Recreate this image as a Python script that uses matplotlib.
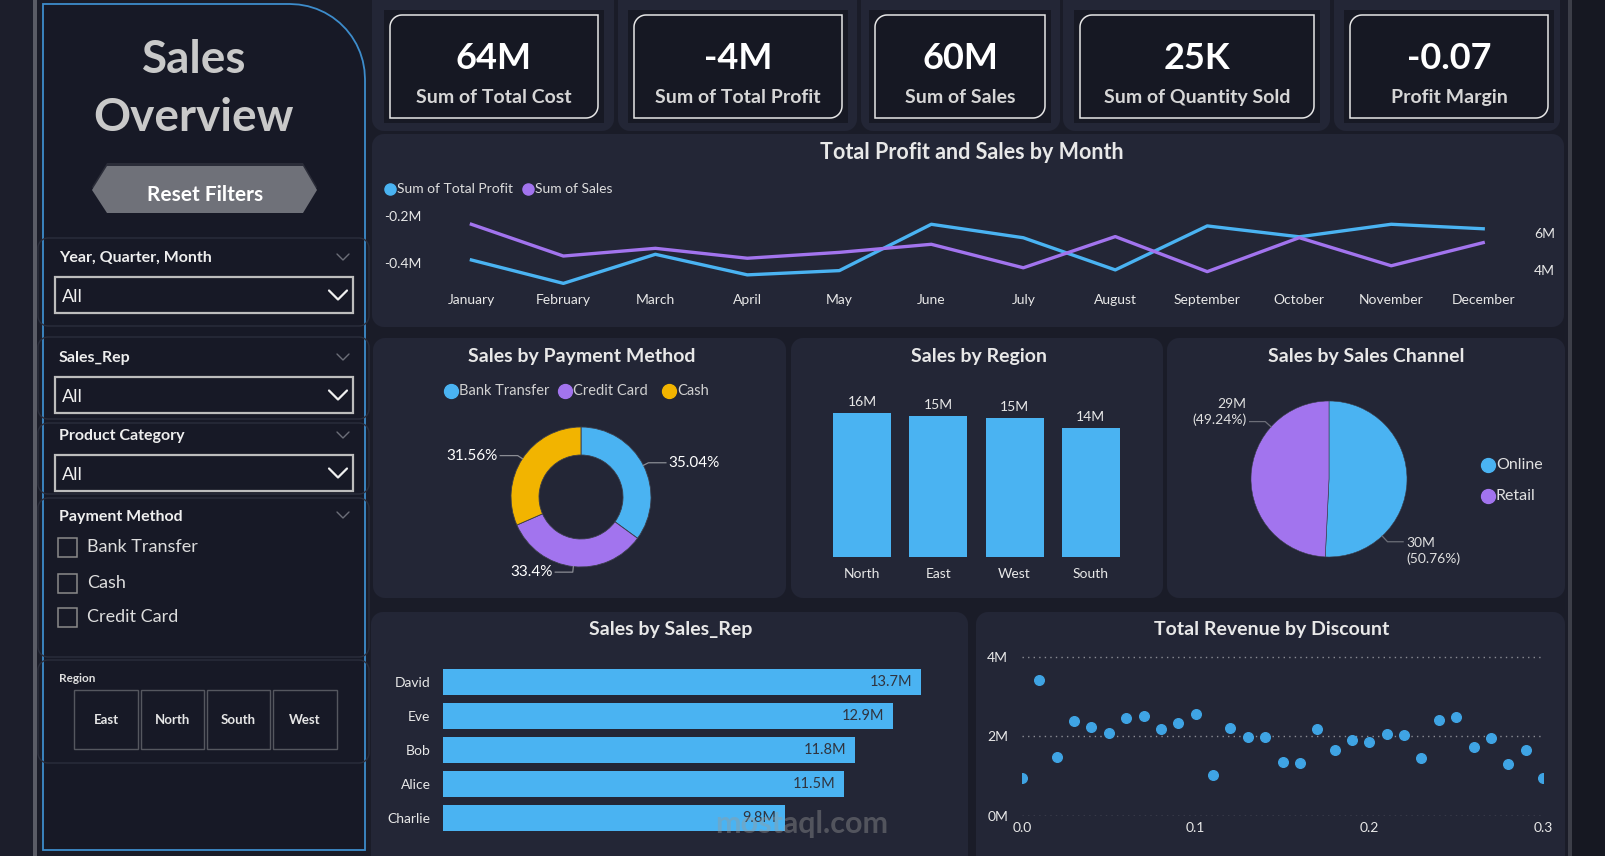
import numpy as np
import matplotlib
matplotlib.use('Agg')
import matplotlib.pyplot as plt
from matplotlib.patches import Polygon, Rectangle

plt.rcParams['font.family'] = ['Lato', 'DejaVu Sans']

W, H = 1606, 856

# ---- data ----
kpi_values = ['64M', '-4M', '60M', '25K', '-0.07']
kpi_labels = ['Sum of Total Cost', 'Sum of Total Profit', 'Sum of Sales',
              'Sum of Quantity Sold', 'Profit Margin']

months = ['January', 'February', 'March', 'April', 'May', 'June', 'July',
          'August', 'September', 'October', 'November', 'December']
profit_m = [-0.386, -0.485, -0.362, -0.449, -0.431, -0.235, -0.292, -0.428,
            -0.242, -0.288, -0.235, -0.254]
sales_m = [6.49, 4.76, 5.18, 4.64, 4.96, 5.40, 4.12, 5.82, 3.91, 5.76, 4.23, 5.49]

pay_methods = ['Bank Transfer', 'Credit Card', 'Cash']
pay_share = [35.04, 33.4, 31.56]

regions = ['North', 'East', 'West', 'South']
region_sales = [15.86, 15.49, 15.27, 14.15]

channels = ['Online', 'Retail']
channel_sales = [29.9, 29.0]

reps = ['David', 'Eve', 'Bob', 'Alice', 'Charlie']
rep_sales = [13.7, 12.9, 11.8, 11.5, 9.8]

discount = [0.00, 0.01, 0.02, 0.03, 0.04, 0.05, 0.06, 0.07, 0.08, 0.09, 0.10,
            0.11, 0.12, 0.13, 0.14, 0.15, 0.16, 0.17, 0.18, 0.19, 0.20, 0.21,
            0.22, 0.23, 0.24, 0.25, 0.26, 0.27, 0.28, 0.29, 0.30]
revenue = [0.96, 3.41, 1.49, 2.39, 2.23, 2.08, 2.45, 2.52, 2.18, 2.33, 2.55,
           1.02, 2.22, 1.99, 1.99, 1.36, 1.34, 2.18, 1.66, 1.90, 1.87, 2.05,
           2.03, 1.46, 2.40, 2.49, 1.74, 1.95, 1.30, 1.67, 0.96]

slicer_names = ['Year, Quarter, Month', 'Sales_Rep', 'Product Category']
pay_options = ['Bank Transfer', 'Cash', 'Credit Card']
region_buttons = ['East', 'North', 'South', 'West']

# ---- colours ----
BLUE = '#4ab3f2'
PURPLE = '#a274ee'
YELLOW = '#f2b400'
PANEL = '#232636'
BG = '#1a1c28'
SIDE = '#171926'
TXT = '#e8e8e8'

fig = plt.figure(figsize=(W / 100, H / 100), dpi=100, facecolor=BG)
bg = fig.add_axes([0, 0, 1, 1])
bg.set_xlim(0, W)
bg.set_ylim(H, 0)
bg.axis('off')


def px_axes(x0, y0, x1, y1):
    ax = fig.add_axes([x0 / W, 1 - y1 / H, (x1 - x0) / W, (y1 - y0) / H])
    ax.set_facecolor('none')
    for s in ax.spines.values():
        s.set_visible(False)
    return ax


def rbox(x0, y0, x1, y1, r, n=14):
    # r = (top-left, top-right, bottom-right, bottom-left), y grows downwards
    tl, tr, br, bl = r
    pts = []

    def arc(cx, cy, rad, a0, a1):
        for t in np.linspace(a0, a1, n):
            pts.append((cx + rad * np.cos(t), cy + rad * np.sin(t)))
    arc(x0 + tl, y0 + tl, tl, np.pi, 1.5 * np.pi)
    arc(x1 - tr, y0 + tr, tr, 1.5 * np.pi, 2 * np.pi)
    arc(x1 - br, y1 - br, br, 0, 0.5 * np.pi)
    arc(x0 + bl, y1 - bl, bl, 0.5 * np.pi, np.pi)
    return pts


def panel(x0, y0, x1, y1, r=12, fc=PANEL, ec='none', lw=1.0, radii=None):
    if radii is None:
        radii = (r, r, r, r)
    bg.add_patch(Polygon(rbox(x0, y0, x1, y1, radii), closed=True,
                         fc=fc, ec=ec, lw=lw))


def chevron(x, y, w, h, color, lw):
    bg.plot([x - w / 2, x, x + w / 2], [y - h / 2, y + h / 2, y - h / 2],
            color=color, lw=lw, solid_capstyle='round')


# ---- frame strips ----
bg.add_patch(Rectangle((0, 0), 33, H, fc='#1c1e2b', ec='none'))
bg.add_patch(Rectangle((33, 0), 4, H, fc='#5a5c66', ec='none'))
bg.add_patch(Rectangle((1568, 0), 4, H, fc='#3c3e48', ec='none'))
bg.add_patch(Rectangle((1572, 0), W - 1572, H, fc='#161822', ec='none'))

# ---- sidebar ----
panel(43, 4, 365, 850, radii=(0, 75, 0, 0), fc=SIDE, ec='#3d8ccb', lw=1.3)
bg.text(194, 60, 'Sales', ha='center', va='center', fontsize=33,
        fontweight='bold', color='#c9c9c9')
bg.text(194, 118, 'Overview', ha='center', va='center', fontsize=33,
        fontweight='bold', color='#c9c9c9')

hexa = [(92, 190), (107, 166), (303, 166), (317, 190), (303, 213), (107, 213)]
bg.add_patch(Polygon([(p[0], p[1] - 3) for p in hexa], closed=True,
                     fc='#2a2c38', ec='none'))
bg.add_patch(Polygon(hexa, closed=True, fc='#6f7179', ec='none'))
bg.text(205, 195, 'Reset Filters', ha='center', va='center', fontsize=15,
        fontweight='bold', color='white')

# slicer outlines
for y0, y1 in [(238, 326), (337, 419), (423, 494), (498, 657), (660, 763)]:
    panel(38, y0, 369, y1, r=10, fc='none', ec='#2b2e3c', lw=1.0)

# dropdown slicers
for name, ly, by in zip(slicer_names, [258, 358, 436], [277, 377, 455]):
    bg.text(59, ly, name, ha='left', va='center', fontsize=11.5,
            fontweight='bold', color='#eeeeee')
    chevron(343, ly - 1, 12, 6, '#6c6e78', 1.0)
    bg.add_patch(Rectangle((55, by), 298, 36, fc='none', ec='#bdbdbd', lw=1.6))
    bg.text(62, by + 20, 'All', ha='left', va='center', fontsize=13,
            color='#f0f0f0')
    chevron(338, by + 18, 18, 9, '#f0f0f0', 1.6)

# checkbox slicer
bg.text(59, 517, 'Payment Method', ha='left', va='center', fontsize=11.5,
        fontweight='bold', color='#eeeeee')
chevron(343, 515, 12, 6, '#6c6e78', 1.0)
for opt, cy in zip(pay_options, [547, 583, 617]):
    bg.add_patch(Rectangle((58, cy - 9.5), 19, 19, fc='none', ec='#8a8a8a', lw=1.1))
    bg.text(87, cy, opt, ha='left', va='center', fontsize=13, color='#dddddd')

# region buttons
bg.text(59, 679, 'Region', ha='left', va='center', fontsize=8.5,
        fontweight='bold', color='#e0e0e0')
for lab, (x0, x1) in zip(region_buttons, [(74, 138), (141, 204), (207, 270), (273, 337)]):
    bg.add_patch(Rectangle((x0, 690), x1 - x0, 59, fc='none', ec='#55575f', lw=1.0))
    bg.text((x0 + x1) / 2, 720, lab, ha='center', va='center', fontsize=9.5,
            fontweight='bold', color='#e6e6e6')

# ---- KPI cards ----
outer = [(372, 614), (618, 857), (861, 1060), (1063, 1330), (1334, 1560)]
inner = [(390, 598), (634, 842), (875, 1045), (1080, 1314), (1350, 1548)]
for (ox0, ox1), (ix0, ix1), val, lab in zip(outer, inner, kpi_values, kpi_labels):
    panel(ox0, -12, ox1, 131, r=12)
    bg.add_patch(Rectangle((ix0 - 6, 10), ix1 - ix0 + 12, 113, fc='#171924', ec='none'))
    panel(ix0, 15, ix1, 118, radii=(12, 0, 12, 0), fc='#161823', ec='#e6e6e6', lw=1.1)
    cx = (ix0 + ix1) / 2
    bg.text(cx, 58, val, ha='center', va='center', fontsize=26,
            fontweight='bold', color='white')
    bg.text(cx, 97, lab, ha='center', va='center', fontsize=14,
            fontweight='bold', color='#d6d6d6')

# ---- line chart panel ----
panel(372, 134, 1564, 327)
bg.text(972, 152, 'Total Profit and Sales by Month', ha='center', va='center',
        fontsize=15.5, fontweight='bold', color=TXT)
bg.plot([390], [189], 'o', color=BLUE, ms=8)
bg.text(397, 189, 'Sum of Total Profit', ha='left', va='center', fontsize=10, color='#dddddd')
bg.plot([528], [189], 'o', color=PURPLE, ms=8)
bg.text(535, 189, 'Sum of Sales', ha='left', va='center', fontsize=10, color='#dddddd')

ax = px_axes(430, 205, 1520, 290)
xm = np.arange(len(months))
ax.plot(xm, profit_m, color=BLUE, lw=2.4)
ax.set_xlim(-0.45, 11.4)
ax.set_ylim(-0.513, -0.1535)
ax.set_yticks([-0.4, -0.2])
ax.set_yticklabels(['-0.4M', '-0.2M'])
ax.set_xticks(xm)
ax.set_xticklabels(months)
ax.tick_params(axis='x', length=0, colors=TXT, labelsize=10, pad=3)
ax.tick_params(axis='y', length=0, colors=TXT, labelsize=10, pad=6)
ax2 = ax.twinx()
for s in ax2.spines.values():
    s.set_visible(False)
ax2.plot(xm, sales_m, color=PURPLE, lw=2.4)
ax2.set_ylim(2.91, 7.54)
ax2.set_yticks([4, 6])
ax2.set_yticklabels(['4M', '6M'])
ax2.tick_params(axis='y', length=0, colors=TXT, labelsize=10, pad=10)

# ---- donut: payment method ----
panel(373, 338, 786, 598)
bg.text(582, 356, 'Sales by Payment Method', ha='center', va='center',
        fontsize=14, fontweight='bold', color=TXT)
leg_x = [451, 565, 669]
for lx, lab, col in zip(leg_x, pay_methods, [BLUE, PURPLE, YELLOW]):
    bg.plot([lx], [391], 'o', color=col, ms=10)
    bg.text(lx + 8, 391, lab, ha='left', va='center', fontsize=10.5, color='#d0d0d0')

axd = px_axes(511, 427, 651, 567)
axd.pie(pay_share, colors=[BLUE, PURPLE, YELLOW], startangle=90,
        counterclock=False, radius=1,
        wedgeprops=dict(width=0.4, edgecolor='#3a3d4a', linewidth=0.6))
axd.set_xlim(-1, 1)
axd.set_ylim(-1, 1)
cum = 0
for p in pay_share:
    mid = np.deg2rad(90 - (cum + p / 2) * 3.6)
    cum += p
    ex, ey = 1.08 * np.cos(mid), 1.08 * np.sin(mid)
    sx, sy = np.cos(mid), np.sin(mid)
    side = 1 if np.cos(mid) > 0 else -1
    endx = ex + side * 0.25
    axd.plot([sx, ex, endx], [sy, ey, ey], color='#8a8c94', lw=0.9, clip_on=False)
    txt = f"{p:.2f}".rstrip('0').rstrip('.') + '%'
    axd.text(endx + side * 0.04, ey, txt, ha='left' if side > 0 else 'right',
             va='center', fontsize=11, color='white')

# ---- bars: region ----
panel(791, 338, 1163, 598)
bg.text(979, 356, 'Sales by Region', ha='center', va='center',
        fontsize=14, fontweight='bold', color=TXT)
axr = px_axes(824, 392, 1129, 557)
xr = np.arange(len(regions))
axr.bar(xr, region_sales, width=0.76, color=BLUE)
axr.set_xlim(-0.5, 3.5)
axr.set_ylim(0, 18.13)
axr.set_yticks([])
axr.set_xticks(xr)
axr.set_xticklabels(regions)
axr.tick_params(axis='x', length=0, colors=TXT, labelsize=10, pad=8)
for i, v in enumerate(region_sales):
    axr.text(i, v + 1.2, f"{v:.0f}M", ha='center', va='center', fontsize=10, color=TXT)

# ---- pie: sales channel ----
panel(1167, 338, 1565, 598)
bg.text(1366, 356, 'Sales by Sales Channel', ha='center', va='center',
        fontsize=14, fontweight='bold', color=TXT)
axp = px_axes(1251, 401, 1407, 557)
axp.pie(channel_sales, colors=[BLUE, PURPLE], startangle=90,
        counterclock=False, radius=1,
        wedgeprops=dict(edgecolor='#3a3d4a', linewidth=0.4))
axp.set_xlim(-1, 1)
axp.set_ylim(-1, 1)
tot = sum(channel_sales)
for v, ang, side in zip(channel_sales, [-47, 138], [1, -1]):
    a = np.deg2rad(ang)
    sx, sy = np.cos(a), np.sin(a)
    ex, ey = 1.1 * sx, 1.1 * sy
    endx = ex + side * 0.2
    axp.plot([sx, ex, endx], [sy, ey, ey], color='#6c6e78', lw=0.9, clip_on=False)
    axp.text(endx + side * 0.04, ey - side * 0.12, f"{v:.0f}M\n({v / tot * 100:.2f}%)",
             ha='left' if side > 0 else 'right', va='center', fontsize=10,
             color='#e0e0e0', linespacing=1.35)
for lab, col, ly in zip(channels, [BLUE, PURPLE], [465, 496]):
    bg.plot([1488], [ly], 'o', color=col, ms=10)
    bg.text(1496, ly, lab, ha='left', va='center', fontsize=11.5, color='#e0e0e0')

# ---- horizontal bars: sales rep ----
panel(371, 612, 968, 880)
bg.text(671, 630, 'Sales by Sales_Rep', ha='center', va='center',
        fontsize=14, fontweight='bold', color=TXT)
axh = px_axes(443, 664.7, 953, 834.7)
yh = np.arange(len(reps))
axh.barh(yh, rep_sales, height=0.765, color=BLUE)
axh.set_xlim(0, 14.61)
axh.set_ylim(4.5, -0.5)
axh.set_xticks([])
axh.set_yticks(yh)
axh.set_yticklabels(reps)
axh.tick_params(axis='y', length=0, colors=TXT, labelsize=10, pad=9)
for i, v in enumerate(rep_sales):
    axh.text(v - 0.25, i, f"{v}M", ha='right', va='center', fontsize=10.5,
             color='#30343f')

# ---- scatter: revenue by discount ----
panel(976, 612, 1565, 880)
bg.text(1272, 630, 'Total Revenue by Discount', ha='center', va='center',
        fontsize=14, fontweight='bold', color=TXT)
axs = px_axes(1022, 645, 1543, 816)
axs.scatter(discount, revenue, s=48, color='#3fa4e4', zorder=3)
axs.set_xlim(0, 0.3)
axs.set_ylim(0, 4.296)
axs.set_yticks([0, 2, 4])
axs.set_yticklabels(['0M', '2M', '4M'])
axs.set_xticks([0, 0.1, 0.2, 0.3])
axs.set_xticklabels(['0.0', '0.1', '0.2', '0.3'])
axs.grid(axis='y', color='#8a8c94', ls=(0, (1, 3)), lw=1)
axs.tick_params(axis='y', length=0, colors=TXT, labelsize=10, pad=10)
axs.tick_params(axis='x', length=0, colors=TXT, labelsize=10, pad=4)

# watermark (drawn over everything)
fig.text(802 / W, 1 - 824 / H, 'mostaql.com', ha='center', va='center',
         fontsize=22, fontweight='bold', color='#9a9a9a', alpha=0.4, zorder=10)

fig.savefig('out.png', dpi=100, facecolor=fig.get_facecolor())
